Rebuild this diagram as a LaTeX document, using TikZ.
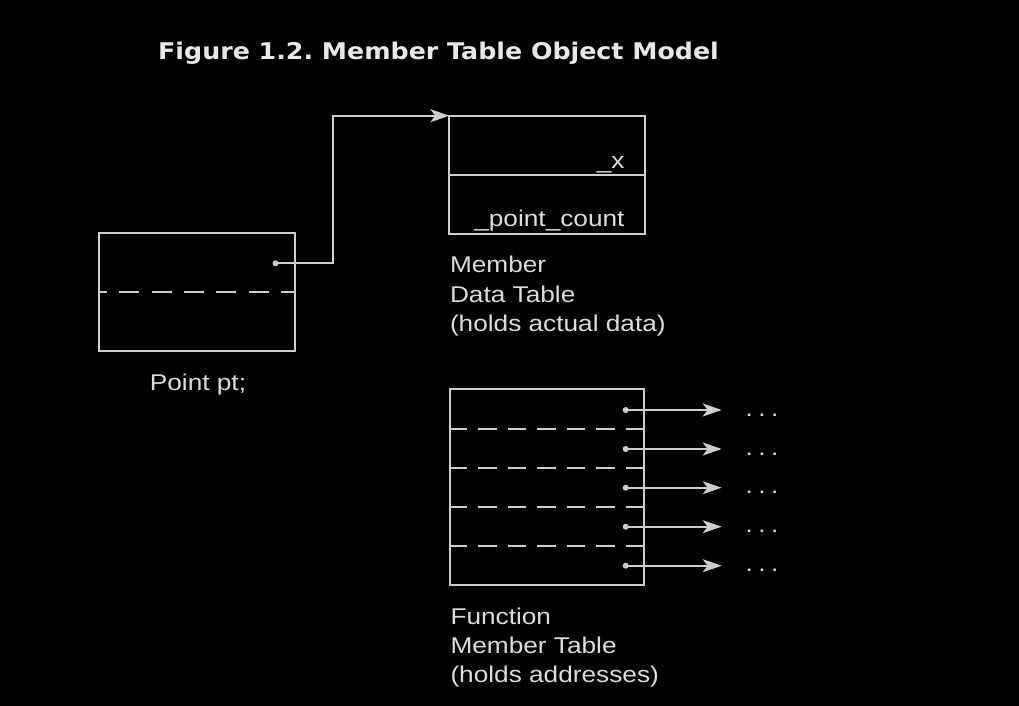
\documentclass[tikz,border=0pt]{standalone}
\usepackage{fontspec}
\usetikzlibrary{arrows.meta,calc}
\newfontfamily\labfont[FakeStretch=1.15]{Liberation Sans}
\newfontfamily\titlefont[FakeStretch=1.1]{DejaVu Sans}
\definecolor{ln}{HTML}{CDCDCD}
\definecolor{tx}{HTML}{DCDCDC}
\definecolor{tt}{HTML}{E8E8E8}
\frenchspacing
\begin{document}
\begin{tikzpicture}[x=1bp,y=-1bp,
  box/.style={draw=ln, line width=1.8bp, inner sep=0pt, outer sep=0pt, anchor=north west},
  sep/.style={draw=ln, line width=1.8bp},
  dsepa/.style={sep, dash pattern=on 20bp off 12.3bp, dash phase=12bp},
  dsepb/.style={sep, dash pattern=on 18.5bp off 11.1bp, dash phase=1.6bp},
  lab/.style={text=tx, font=\labfont\fontsize{22.8bp}{29.4bp}\selectfont, inner sep=0pt, outer sep=0pt},
  dotn/.style={circle, fill=ln, inner sep=0pt, minimum size=6bp},
  ptr/.style={draw=ln, line width=1.8bp, -{Stealth[length=19bp,width=13bp,inset=5bp]}},
]
\fill[black] (0,0) rectangle (1019,706);
\useasboundingbox (0,0) rectangle (1019,706);

% title
\node[anchor=base west, text=tt, inner sep=0pt, font=\titlefont\bfseries\fontsize{23bp}{27bp}\selectfont] (title) at (158,59.3) {Figure 1.2. Member Table Object Model};

% Point pt box
\node[box, minimum width=196bp, minimum height=117.5bp] (pt) at (99,233.3) {};
\draw[dsepa] ($(pt.north west)+(0,59)$) -- ($(pt.north east)+(0,59)$);
\node[dotn] (ptdot) at (275.5,263.3) {};
\node[lab, anchor=base] (ptl) at (198,390) {Point pt;};

% Member data table
\node[box, minimum width=196bp, minimum height=118.3bp] (md) at (449.3,115.7) {};
\draw[sep] ($(md.north west)+(0,59.3)$) -- ($(md.north east)+(0,59.3)$);
\node[lab, anchor=base east] (mx) at (624.5,168.3) {\_x};
\node[lab, anchor=base east] (mpc) at (624.5,226) {\_point\_count};
\node[lab, anchor=north west, align=left] (mdl) at (450,256.3) {Member\\Data Table\\(holds actual data)};

% pointer from pt to member data table
\coordinate (bend) at (333,0);
\draw[ptr] (ptdot.center) -| (bend |- md.north west) -- (md.north west);

% Function member table
\node[box, minimum width=194.3bp, minimum height=195.7bp] (fm) at (450,389.3) {};
\foreach \dy in {39.7,78.7,117.4,156.4}
  \draw[dsepb] ($(fm.north west)+(0,\dy)$) -- ($(fm.north east)+(0,\dy)$);
\foreach \i/\yy in {1/410,2/449,3/487.7,4/526.7,5/565.7}{
  \node[dotn] (fd\i) at (625.7,\yy) {};
  \coordinate (ft\i) at (721.7,\yy);
  \draw[ptr] (fd\i.center) -- (ft\i);
  \node[lab, anchor=base west] (fe\i) at (745.5,\yy+6) {.\kern5.5bp.\kern5.5bp.};
}
\node[lab, anchor=north west, align=left] (fml) at (450.5,607.5) {Function\\Member Table\\(holds addresses)};
\end{tikzpicture}
\end{document}
